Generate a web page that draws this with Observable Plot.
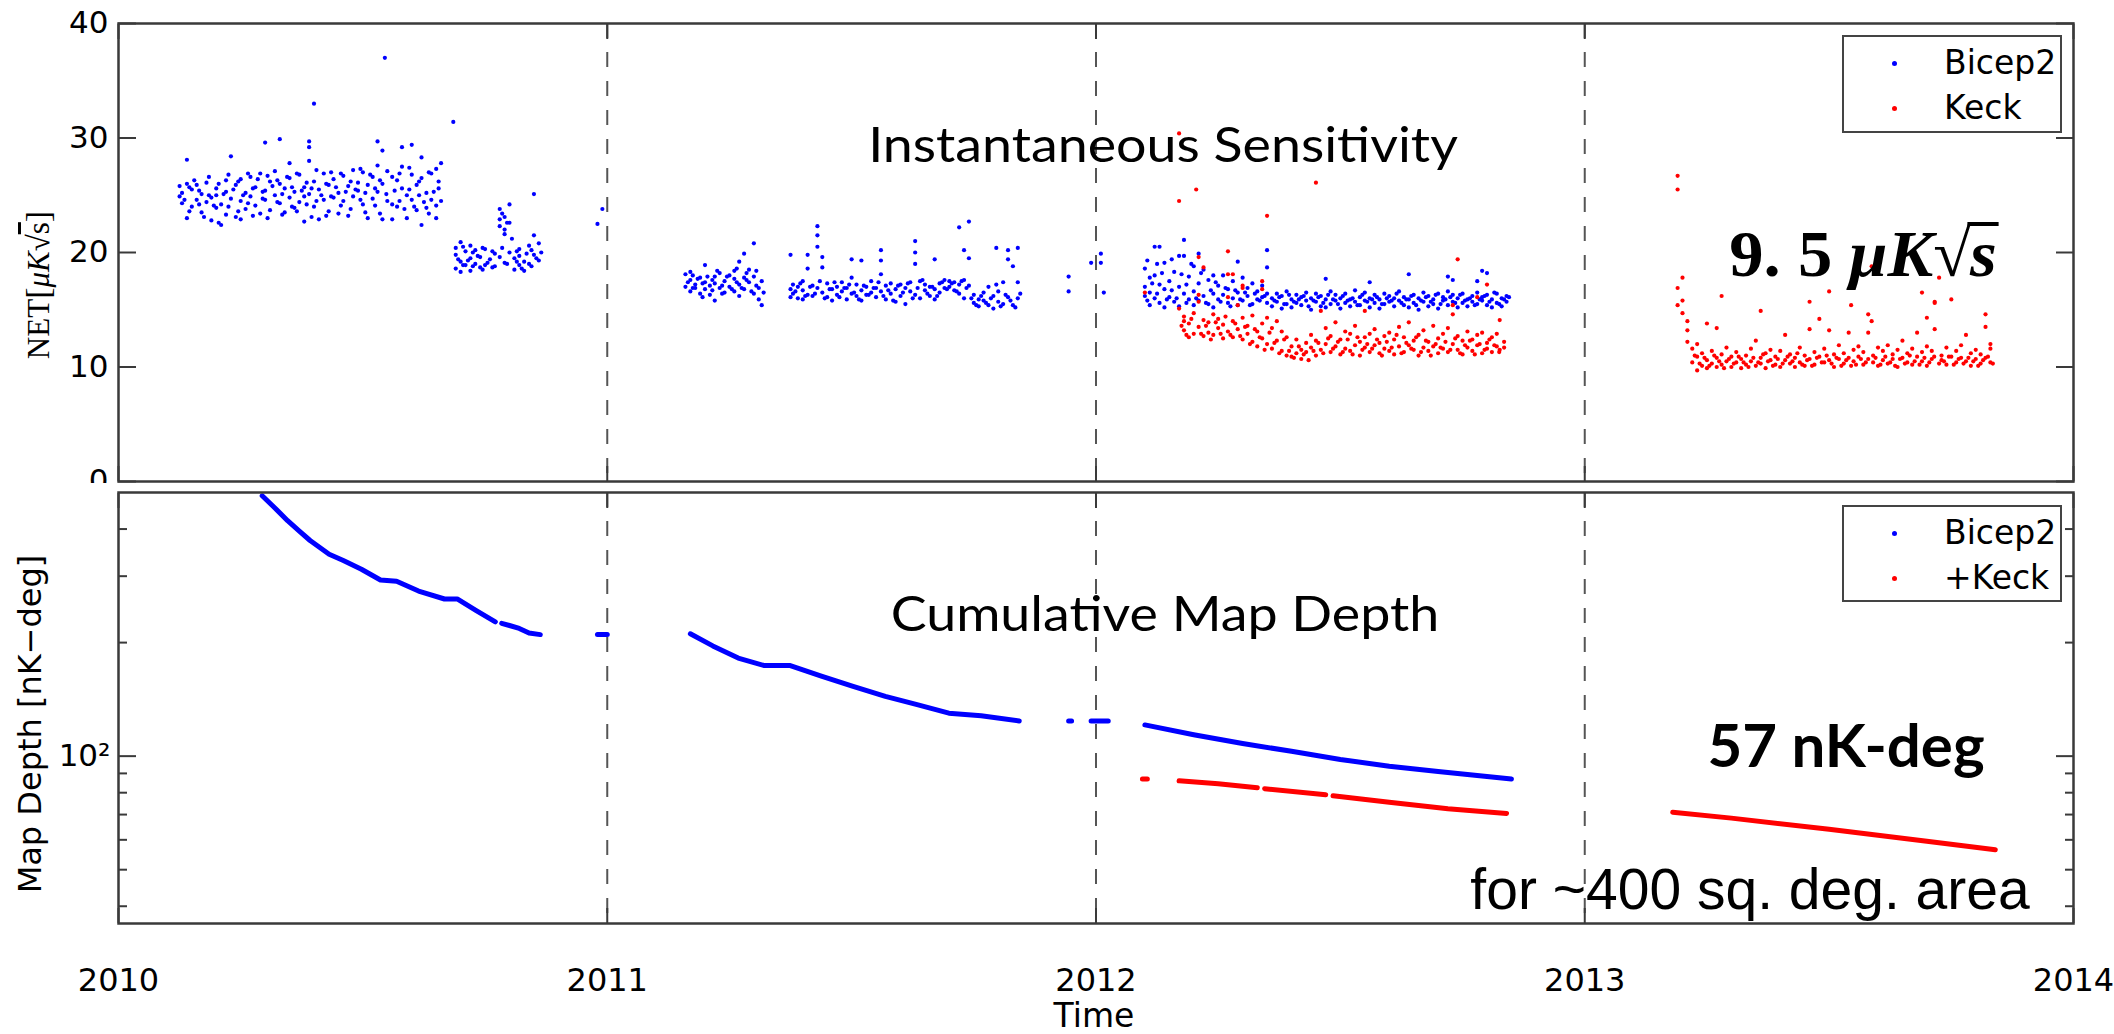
<!DOCTYPE html>
<html><head><meta charset="utf-8">
<script src="https://cdn.jsdelivr.net/npm/d3@7"></script>
<script src="https://cdn.jsdelivr.net/npm/@observablehq/plot@0.6"></script>
<style>
body{margin:0;background:#fff;}
#wrap{position:relative;width:2114px;height:1034px;background:#fff;overflow:hidden;}
#wrap svg{position:absolute;left:0;}
.lbl{position:absolute;white-space:nowrap;color:#000;line-height:1;}
.legend{position:absolute;border:2px solid #444;background:#fff;box-sizing:border-box;font-family:"DejaVu Sans",sans-serif;font-size:33px;}
.legend .row{position:absolute;left:0;right:0;height:40px;}
.legend .mk{position:absolute;left:48px;top:18px;width:5px;height:5px;border-radius:50%;}
.legend .tx{position:absolute;left:100px;top:0px;line-height:40px;}
</style></head><body><div id="wrap"></div><script>
// ---------------- data ----------------
const xTicks = [2010, 2011, 2012, 2013, 2014];
const yearLines = [2011, 2012, 2013];
const netTicks = [0, 10, 20, 30, 40];
const depthMajor = [100];
const depthMinor = [40, 50, 60, 70, 80, 90, 200, 300, 400];
const seriesNames = ["Bicep2", "Keck"];
const seriesNamesDepth = ["Bicep2", "+Keck"];

// Instantaneous sensitivity (NET, uK sqrt(s)); each row: time, then values seen at that time
const bicepNET = [
 [2010.125,25.8,24.9],[2010.13,25.2,24.3],[2010.14,26.0,23.0,28.1],[2010.15,25.5,24.0],[2010.16,24.6,25.9],
 [2010.17,23.5,25.1],[2010.18,26.1,24.4],[2010.19,24.8,22.8],[2010.20,25.6,23.9,25.0],[2010.21,24.2,22.4],
 [2010.22,26.3,25.3,23.3],[2010.23,28.4,24.7],[2010.24,25.9,23.1],[2010.25,24.5,26.4,22.9],[2010.26,25.2,23.8],
 [2010.27,26.6,24.9],[2010.28,25.7,24.1],[2010.29,23.4,26.9],[2010.30,29.6,25.4,24.6],[2010.31,26.2,23.7],
 [2010.32,25.0,27.1],[2010.33,29.9,24.3,26.0],[2010.34,25.6,23.5],[2010.35,27.8,24.8,26.5],[2010.36,25.3,23.9],
 [2010.37,26.8,24.4],[2010.38,25.7,22.7,24.9],[2010.39,29.7,29.2,28.0,25.1],[2010.40,33.0,26.2,24.0],[2010.41,25.5,22.9],
 [2010.42,26.9,24.6],[2010.43,25.9,23.6],[2010.44,24.8,26.4],[2010.45,25.2,23.4],[2010.46,26.7,24.5],
 [2010.47,25.8,23.2],[2010.48,27.2,24.9],[2010.49,25.4,26.1],[2010.50,24.2,27.0],[2010.51,25.9,23.0],
 [2010.52,26.6,24.7],[2010.53,29.7,27.6,25.3],[2010.54,28.9,26.0,22.9],[2010.545,37.0],[2010.55,27.1,24.5],
 [2010.57,26.3,24.0],[2010.58,29.2,27.5,25.6],[2010.59,25.0,23.0],[2010.60,29.4,26.8,24.6],[2010.61,25.9,23.7],
 [2010.62,28.3,26.5,22.4],[2010.63,25.2,23.9],[2010.64,24.6,26.9],[2010.65,27.3,24.1,23.0],[2010.655,25.6,26.2],
 [2010.685,31.4],
 [2010.69,19.8,18.6,20.4],[2010.70,19.2,20.9,18.3],[2010.71,20.1,18.9],[2010.72,19.5,18.4,20.6],[2010.73,19.0,20.2],
 [2010.74,18.7,19.6],[2010.75,20.3,18.9],[2010.76,19.4],[2010.77,19.9,18.8],[2010.78,23.8,22.9,22.3,19.6],
 [2010.79,23.1,22.0,21.6,19.1],[2010.80,24.2,22.6,20.0],[2010.81,19.5,18.5],[2010.82,20.3,18.9,19.7],[2010.83,19.2,18.4],
 [2010.84,20.6,19.0],[2010.85,25.1,21.5,19.8],[2010.86,20.8,19.3],
 [2010.98,22.5],[2010.99,23.8],
 [2011.16,18.1,17.0],[2011.17,17.6,16.6,18.3],[2011.18,17.2,16.9],[2011.19,17.8,16.4],[2011.20,18.9,17.4,16.8],
 [2011.21,17.1,16.3],[2011.22,17.9,15.8,17.3],[2011.23,16.9,18.2],[2011.24,17.5,16.5],[2011.25,18.0,17.0],
 [2011.26,16.6,17.7,18.4],[2011.27,19.2,17.2,16.2],[2011.28,19.9,17.8,16.8],[2011.29,18.5,17.4],[2011.30,20.8,16.4,17.9],
 [2011.31,16.9,15.9],[2011.316,15.4,17.5],
 [2011.375,19.8,16.8,16.1],[2011.38,17.2,16.4],[2011.39,16.0,17.0],[2011.40,16.7,15.9,17.5],[2011.41,19.8,18.6,16.3],
 [2011.42,17.1,16.2],[2011.43,22.3,21.5,20.5,16.9],[2011.44,19.6,18.7,16.5],[2011.45,16.1,17.3],[2011.46,16.8,15.8],
 [2011.47,17.0,16.3],[2011.48,16.6,17.4],[2011.49,15.9,16.9],[2011.50,19.4,17.8,16.4],[2011.51,16.2,17.2],
 [2011.52,19.3,16.7,15.8],[2011.53,17.0,16.3],[2011.54,16.5,17.5],[2011.55,16.1,16.9],[2011.56,20.2,19.3,18.1,16.6],
 [2011.57,17.1,15.9],[2011.58,16.4,17.3],[2011.59,16.8,15.7],[2011.60,17.2,16.2],[2011.61,15.5,16.9],
 [2011.62,17.4,16.6],[2011.63,21.0,20.0,19.0,16.3],[2011.64,17.5,16.0],[2011.65,16.7,17.2],[2011.66,16.2,17.0],
 [2011.67,19.4,16.8,15.9],[2011.68,17.3,16.5],[2011.69,17.6,16.9],[2011.70,17.0,17.5],[2011.71,17.4,16.7],
 [2011.72,22.2,17.2,16.4],[2011.73,20.2,17.6,16.0],[2011.74,22.7,19.5,17.1],[2011.75,16.3,15.6],[2011.76,15.9,15.3],
 [2011.77,16.5,15.8],[2011.78,17.0,15.4],[2011.79,16.2,15.1],[2011.796,20.4,17.2],[2011.80,15.7,16.6],
 [2011.81,17.4,15.5],[2011.82,20.2,19.4,16.1],[2011.83,18.8,15.4],[2011.84,20.4,17.4,16.0],
 [2011.944,17.9,16.6],[2011.99,19.1],[2012.01,19.9,19.1],[2012.016,16.5],
 [2012.10,18.6,17.0,16.2],[2012.105,19.3,15.8],[2012.11,17.8,16.5,15.4],[2012.12,20.5,18.0,16.0],[2012.13,20.5,17.2,15.6],
 [2012.14,19.1,16.8,15.2],[2012.15,17.5,16.1],[2012.16,18.3,15.7],[2012.17,19.7,17.0,15.3],[2012.18,21.1,19.7,16.4],
 [2012.19,17.9,15.9],[2012.20,18.8,16.6,15.4],[2012.21,19.9,17.3,15.8],[2012.22,18.5,16.2],[2012.23,17.6,15.5],
 [2012.24,18.0,16.4,15.2],[2012.25,17.1,15.9],[2012.26,18.0,16.3],[2012.27,16.8,15.6],[2012.28,17.5,16.0],
 [2012.29,19.2,16.5,15.4],[2012.30,17.8,15.8],[2012.31,16.9,16.2],[2012.32,17.3,15.5],[2012.33,16.6,15.9],
 [2012.34,17.1,16.1],[2012.35,20.2,18.7,16.4,15.6],
 [2012.36,16.0,15.3],[2012.37,15.7,16.4],[2012.38,16.2,15.1],[2012.39,15.5,16.6],[2012.40,15.9,15.2],
 [2012.41,16.3,15.6],[2012.42,15.4,16.1],[2012.43,16.5,15.8],[2012.44,15.0,16.0],[2012.45,15.7,16.4],
 [2012.46,15.3,16.2],[2012.47,17.7,15.9,15.2],[2012.48,16.6,15.5],[2012.49,15.8,16.3],[2012.50,15.1,16.0],
 [2012.51,16.4,15.6],[2012.52,15.9,15.3],[2012.53,16.7,15.7],[2012.54,15.4,16.1],[2012.55,15.8,16.5],
 [2012.56,17.4,15.2,16.0],[2012.57,15.6,16.3],[2012.58,15.9,15.1],[2012.59,16.4,15.5],[2012.60,15.7,16.2],
 [2012.61,15.3,16.0],[2012.62,16.6,15.8],[2012.63,15.4,16.1],[2012.64,18.1,15.9,15.2],[2012.65,16.3,15.6],
 [2012.66,15.0,16.0],[2012.67,16.5,15.7],[2012.68,15.3,16.2],[2012.69,15.9,15.5],[2012.70,16.4,15.1],
 [2012.71,15.8,16.1],[2012.72,17.9,15.4,16.6],[2012.73,15.7,16.3,17.6],[2012.74,15.2,16.0],[2012.75,16.4,15.6],
 [2012.76,15.9,15.3],[2012.77,16.2,15.7],[2012.78,17.5,15.5,16.5],[2012.79,18.4,15.8,16.1],[2012.80,18.2,15.4,16.3],
 [2012.81,15.9,15.2],[2012.82,16.4,15.6],[2012.83,16.0,15.3],[2012.84,16.2,15.7]
];
const bicepNET2 = [
 [2010.135,24.6],[2010.145,25.7,23.6],[2010.155,26.3],[2010.165,24.2,25.4],[2010.175,23.1],[2010.185,25.0,26.6],
 [2010.195,24.1],[2010.205,26.0,22.6],[2010.215,25.1],[2010.225,24.0,26.8],[2010.235,25.5],[2010.245,23.6,26.2],
 [2010.255,25.0],[2010.265,24.3,26.9],[2010.275,25.6,23.2],[2010.285,26.4],[2010.295,24.7,25.3],[2010.305,23.0,26.7],
 [2010.315,25.8],[2010.325,24.4,26.3],[2010.335,25.1,23.3],[2010.345,26.6],[2010.355,24.0,25.7],[2010.365,26.9,23.6],
 [2010.375,25.4],[2010.385,24.2,26.1],[2010.395,25.6,23.1],[2010.405,27.2,24.5],[2010.415,25.0],[2010.425,23.2,26.0],
 [2010.435,24.9,27.0],[2010.445,25.7],[2010.455,24.1,26.9],[2010.465,25.3],[2010.475,23.8,26.2],[2010.485,25.5],
 [2010.495,24.6,27.3],[2010.505,25.2,23.5],[2010.515,26.8],[2010.525,24.1,25.6],[2010.535,26.3,23.4],[2010.548,25.1],
 [2010.56,26.6,24.2,22.9],[2010.565,25.4],[2010.575,24.5,26.9],[2010.585,23.8],[2010.595,25.5,27.4],[2010.605,24.0],
 [2010.615,26.2,25.0],[2010.625,24.4],[2010.635,27.0,23.4],[2010.645,25.3],[2010.66,24.5,27.8],
 [2010.695,19.4],[2010.705,20.5,18.9],[2010.715,19.3],[2010.725,18.8,20.0],[2010.735,19.7],[2010.745,20.4,18.5],
 [2010.755,19.1],[2010.765,20.1,18.7],[2010.785,23.4,20.4],[2010.795,22.6,19.0],[2010.805,21.2],[2010.815,20.1,19.2],
 [2010.825,18.6],[2010.835,19.9],[2010.845,20.2,18.8],[2010.855,19.5],[2010.865,20.0],
 [2011.165,17.4],[2011.175,16.9,18.0],[2011.185,17.7],[2011.195,16.1,17.3],[2011.205,17.9],[2011.215,16.7,17.6],
 [2011.225,18.4],[2011.235,17.1,16.4],[2011.245,17.9],[2011.255,16.8],[2011.265,17.4,18.6],[2011.275,16.9],
 [2011.285,17.6,18.2],[2011.295,16.6],[2011.305,18.4,17.1],[2011.32,16.5],
 [2011.385,16.6],[2011.395,17.3],[2011.405,16.2],[2011.415,17.0],[2011.425,16.4],[2011.435,17.5],[2011.445,16.0],
 [2011.455,16.8],[2011.465,17.4],[2011.475,16.1],[2011.485,16.9],[2011.495,17.2],[2011.505,16.5],[2011.515,15.9],
 [2011.525,17.1],[2011.535,16.3],[2011.545,16.9],[2011.555,17.4],[2011.565,16.2],[2011.575,16.7],[2011.585,15.8],
 [2011.595,17.1],[2011.605,16.5],[2011.615,17.3],[2011.625,16.0],[2011.635,16.9],[2011.645,17.6],[2011.655,16.4],
 [2011.665,17.0],[2011.675,16.2],[2011.685,17.4],[2011.695,16.8],[2011.705,17.3],[2011.715,16.6],[2011.725,17.5],
 [2011.735,16.9],[2011.745,16.0],[2011.755,15.4],[2011.765,16.2],[2011.775,15.6],[2011.785,16.0],[2011.805,15.3],
 [2011.815,16.3],[2011.825,15.8],[2011.835,15.2],[2011.845,16.4],
 [2012.115,17.3],[2012.125,16.4,19.0],[2012.135,18.2],[2012.145,15.9],[2012.155,19.4,16.7],[2012.165,16.0],
 [2012.175,18.1],[2012.185,15.6,17.2],[2012.195,19.0],[2012.205,16.0],[2012.215,18.2],[2012.225,15.6],
 [2012.235,16.7],[2012.245,17.4],[2012.255,15.7],[2012.265,16.9],[2012.275,15.3],[2012.285,16.7],[2012.295,15.9],
 [2012.305,16.5],[2012.315,15.4],[2012.325,16.4],[2012.335,15.8],[2012.345,16.2],
 [2012.365,15.8],[2012.375,16.1],[2012.385,15.5],[2012.395,16.3],[2012.405,15.7],[2012.415,15.9],[2012.425,16.2],
 [2012.435,15.3],[2012.445,15.8],[2012.455,16.1],[2012.465,15.6],[2012.475,16.3],[2012.485,15.9],[2012.495,15.5],
 [2012.505,16.2],[2012.515,15.8],[2012.525,16.0],[2012.535,15.4],[2012.545,16.3],[2012.555,15.7],[2012.565,15.9],
 [2012.575,16.1],[2012.585,15.5],[2012.595,16.0],[2012.605,15.8],[2012.615,16.4],[2012.625,15.6],[2012.635,15.9],
 [2012.645,16.2],[2012.655,15.4],[2012.665,15.8],[2012.675,16.1],[2012.685,15.7],[2012.695,16.3],[2012.705,15.5],
 [2012.715,15.9],[2012.725,16.1],[2012.735,15.6],[2012.745,16.3],[2012.755,15.8],[2012.765,16.0],[2012.775,15.4],
 [2012.785,15.9],[2012.795,16.2],[2012.805,15.7],[2012.815,16.5],[2012.825,15.5],[2012.835,15.9],[2012.845,16.1]
];
const keckNET = [
 [2012.10,16.5],[2012.17,30.4,24.5,15.1],[2012.18,14.4,13.2,14.0],[2012.19,12.6,13.8],[2012.20,14.7,12.9],
 [2012.205,25.5],[2012.21,19.6,16.3,15.7,13.5],[2012.22,18.7,12.7,14.1],[2012.23,13.0,13.9],[2012.24,14.6,12.8],
 [2012.25,13.4,14.2],[2012.26,12.5,13.7],[2012.27,20.1,18.1,16.1,13.1],[2012.28,18.1,14.0,12.6],[2012.29,15.4,13.3],
 [2012.30,17.1,16.9,14.3,12.4],[2012.31,13.6,12.9],[2012.32,14.5,12.2],[2012.33,13.1,11.8],[2012.34,17.5,16.8,13.8,12.5],
 [2012.35,23.2,14.3,12.0],[2012.36,13.4,11.6],[2012.37,14.0,12.3],[2012.38,13.1,11.4],[2012.39,12.6,11.0],
 [2012.40,11.8,10.9],[2012.41,12.4,11.2],[2012.42,11.5,10.7],[2012.43,12.1,11.3],[2012.44,11.7,12.8],
 [2012.45,26.1,11.0,12.3],[2012.46,14.9,11.5],[2012.47,13.4,12.0],[2012.48,11.3,12.7],[2012.49,13.9,11.8],
 [2012.50,12.4,11.1],[2012.51,11.6,13.1],[2012.52,12.9,11.4],[2012.53,11.9,13.6],[2012.54,12.2,11.0],
 [2012.55,14.9,12.6,11.7],[2012.56,11.3,12.9],[2012.57,13.3,11.9],[2012.58,12.1,11.2],[2012.59,11.6,12.7],
 [2012.60,13.0,11.4],[2012.61,12.4,11.1],[2012.62,11.8,13.5],[2012.63,12.6,11.3],[2012.64,13.9,11.9],
 [2012.65,11.5,12.3],[2012.66,12.8,11.0],[2012.67,11.7,13.2],[2012.68,12.2,11.4],[2012.69,13.6,11.8],
 [2012.70,11.2,12.5],[2012.71,12.9,11.6],[2012.72,11.3,13.4],[2012.73,15.4,14.6,12.0],[2012.74,19.4,11.5,12.7],
 [2012.75,12.3,11.1],[2012.76,13.1,11.7],[2012.77,11.4,12.4],[2012.78,16.1,12.8,11.9],[2012.79,11.2,13.0],
 [2012.80,17.2,12.1,11.6],[2012.81,12.6,11.3],[2012.82,11.8,12.9],[2012.826,14.1,11.5],[2012.835,12.2,11.7],
 [2013.19,26.7,25.5,16.9,15.4],[2013.20,17.8,15.8,14.7],[2013.21,14.0,13.2,12.2],[2013.22,11.6,10.4],[2013.23,12.0,10.9,9.7],
 [2013.24,11.2,10.1],[2013.25,13.8,10.6,9.9],[2013.26,11.4,10.3],[2013.27,13.4,10.8,10.0],[2013.28,16.2,11.1,10.2],
 [2013.29,10.5,11.7],[2013.30,10.0,10.9],[2013.31,11.3,10.4],[2013.32,10.7,9.9],[2013.33,11.0,10.2],
 [2013.34,10.5,11.6],[2013.35,12.3,10.1],[2013.36,14.9,10.8,10.3],[2013.37,11.2,9.9],[2013.38,10.6,11.5],
 [2013.39,10.2,10.9],[2013.40,11.4,10.0],[2013.41,12.8,10.6],[2013.42,10.3,11.1],[2013.43,10.8,10.0],
 [2013.44,11.7,10.4],[2013.45,10.1,11.0],[2013.46,15.7,13.3,10.7],[2013.47,11.3,10.2],[2013.48,14.2,10.9],
 [2013.49,10.4,11.6],[2013.50,16.6,13.2,10.6],[2013.51,11.1,10.0],[2013.52,10.7,11.9],[2013.53,10.3,11.2],
 [2013.54,13.0,10.8],[2013.545,15.4,10.1],[2013.55,11.5,10.5],[2013.56,10.9,11.8],[2013.57,10.2,11.3],
 [2013.58,14.6,13.0,10.7],[2013.587,18.8,14.0],[2013.59,11.0,10.4],[2013.60,11.7,10.1],[2013.61,10.6,11.4],
 [2013.62,10.3,11.9],[2013.63,11.1,10.7],[2013.64,10.0,11.5],[2013.65,12.3,10.8],[2013.66,10.4,11.2],
 [2013.67,11.6,10.2],[2013.68,13.0,10.9],[2013.69,16.5,11.3,10.5],[2013.70,14.3,10.1,11.8],[2013.71,10.7,11.4],
 [2013.716,15.7,15.6,13.3],[2013.725,17.8,10.3],[2013.73,11.0,10.6],[2013.74,11.7,10.2],[2013.75,15.9,10.9],
 [2013.76,11.4,10.4],[2013.77,10.8,11.9],[2013.78,12.8,10.5],[2013.79,11.2,10.1],[2013.80,10.7,11.5],
 [2013.81,11.1,10.3],[2013.82,14.6,13.5,10.8],[2013.83,11.6,10.4,12.0]
];
const keckNET2 = [
 [2012.175,13.6],[2012.185,12.8],[2012.195,14.2],[2012.215,12.9],[2012.225,13.6],[2012.235,12.4],[2012.245,13.9],
 [2012.255,12.9],[2012.265,14.4],[2012.275,12.8],[2012.285,13.8],[2012.295,12.7],[2012.305,13.5],[2012.315,12.0],
 [2012.325,13.3],[2012.335,12.6],[2012.345,11.5],[2012.355,13.0],[2012.365,12.1],[2012.375,11.2],[2012.385,12.4],
 [2012.395,11.4],[2012.405,10.8],[2012.415,11.8],[2012.425,11.1],[2012.435,10.6],[2012.445,11.4],[2012.455,12.1],
 [2012.465,11.2],[2012.475,12.5],[2012.485,11.6],[2012.495,12.2],[2012.505,11.3],[2012.515,12.4],[2012.525,11.1],
 [2012.535,12.6],[2012.545,11.5],[2012.555,12.0],[2012.565,11.6],[2012.575,12.4],[2012.585,11.0],[2012.595,12.2],
 [2012.605,11.7],[2012.615,12.8],[2012.625,11.2],[2012.635,12.1],[2012.645,11.6],[2012.655,12.6],[2012.665,11.3],
 [2012.675,12.3],[2012.685,11.0],[2012.695,12.0],[2012.705,11.7],[2012.715,12.2],[2012.725,11.5],[2012.735,12.5],
 [2012.745,11.2],[2012.755,11.9],[2012.765,12.3],[2012.775,11.1],[2012.785,12.0],[2012.795,11.5],[2012.805,12.4],
 [2012.815,11.9],[2012.825,11.3],
 [2013.225,11.0],[2013.235,10.3],[2013.245,10.8],[2013.255,10.1],[2013.265,11.0],[2013.275,10.5],[2013.285,9.9],
 [2013.295,10.7],[2013.305,10.3],[2013.315,10.9],[2013.325,10.4],[2013.335,10.0],[2013.345,10.8],[2013.355,10.4],
 [2013.365,11.1],[2013.375,10.5],[2013.385,10.1],[2013.395,10.7],[2013.405,10.3],[2013.415,10.9],[2013.425,10.5],
 [2013.435,11.2],[2013.445,10.2],[2013.455,10.6],[2013.465,10.1],[2013.475,10.8],[2013.485,10.4],[2013.495,11.0],
 [2013.505,10.3],[2013.515,10.8],[2013.525,10.1],[2013.535,10.6],[2013.555,10.2],[2013.565,10.7],[2013.575,10.4],
 [2013.595,10.8],[2013.605,10.2],[2013.615,10.9],[2013.625,10.4],[2013.635,10.1],[2013.645,10.7],[2013.655,10.3],
 [2013.665,11.0],[2013.675,10.5],[2013.685,10.2],[2013.695,10.8],[2013.705,10.4],[2013.715,10.9],[2013.735,10.5],
 [2013.745,10.9],[2013.755,10.2],[2013.765,10.7],[2013.775,10.3],[2013.785,10.8],[2013.795,10.5],[2013.805,10.1],
 [2013.815,10.6],[2013.825,10.9],[2013.835,10.3]
];

// Cumulative map depth (nK-deg), drawn as runs separated by gaps
const bicepDepth = [
 [[2010.294,490],[2010.32,455],[2010.346,421],[2010.37,395],[2010.392,373],[2010.431,343],[2010.46,330],[2010.497,313],
  [2010.536,293],[2010.569,291],[2010.614,274],[2010.667,261],[2010.693,261],[2010.732,243],[2010.771,227]],
 [[2010.784,225],[2010.80,222],[2010.82,218],[2010.84,212],[2010.863,210]],
 [[2010.98,210],[2011.0,210]],
 [[2011.17,211],[2011.216,196],[2011.268,182],[2011.32,174],[2011.373,174],[2011.438,163],[2011.503,153],
  [2011.569,144],[2011.634,137],[2011.699,130],[2011.765,128],[2011.843,124]],
 [[2011.944,124],[2011.95,124]],
 [[2011.99,124],[2012.025,124]],
 [[2012.10,121],[2012.2,114],[2012.3,108],[2012.4,103],[2012.5,98],[2012.6,94],[2012.7,91],[2012.85,87]]
];
const keckDepth = [
 [[2012.095,87],[2012.105,87]],
 [[2012.17,86],[2012.25,84.5],[2012.33,82.5]],
 [[2012.345,82],[2012.47,79]],
 [[2012.485,78.5],[2012.6,75.5],[2012.72,72.5],[2012.84,70.5]],
 [[2013.18,71],[2013.3,68.5],[2013.5,64],[2013.7,59.5],[2013.84,56.5]]
];

// ---------------- build ----------------
const BLUE = "#0000ff", RED = "#ff0000", AX = "#3a3a3a";
const rows = (arr) => arr.flatMap(([t, ...vs]) => vs.map(v => ({t, v})));
const segs = (arr) => arr.flatMap((s, i) => s.map(([t, v]) => ({t, v, seg: i})));
const W = 2114;
const common = {width: W, marginLeft: 118, marginRight: 41,
  style: {fontFamily: "DejaVu Sans, sans-serif", fontSize: "32px", color: "#000", background: "white", overflow: "visible"}};
const blank = () => "";
const rulesOpts = {stroke: "#555", strokeWidth: 2, strokeDasharray: "15,14"};
const tickOpts = {tickFormat: blank, label: null, stroke: AX, strokeWidth: 2};

const topPlot = Plot.plot({
  ...common, height: 490, marginTop: 23, marginBottom: 9,
  x: {domain: [2010, 2014]}, y: {domain: [0, 40], label: null},
  marks: [
    Plot.ruleX(yearLines, rulesOpts),
    Plot.dot(rows(bicepNET).concat(rows(bicepNET2)), {x: "t", y: "v", r: 2.1, fill: BLUE}),
    Plot.dot(rows(keckNET).concat(rows(keckNET2)), {x: "t", y: "v", r: 2.1, fill: RED}),
    Plot.axisY(netTicks, {anchor: "left", tickSize: 0, tickPadding: 10, label: null, fontSize: 31}),
    Plot.axisY(netTicks, {anchor: "left", tickSize: -18, ...tickOpts}),
    Plot.axisY(netTicks, {anchor: "right", tickSize: -18, ...tickOpts}),
    Plot.axisX(xTicks, {anchor: "bottom", tickSize: -15, ...tickOpts}),
    Plot.axisX(xTicks, {anchor: "top", tickSize: -15, ...tickOpts}),
    Plot.frame({stroke: AX, strokeWidth: 2.5})
  ]
});

const botPlot = Plot.plot({
  ...common, height: 551, marginTop: 9, marginBottom: 111,
  x: {domain: [2010, 2014]}, y: {type: "log", domain: [36, 500], label: null},
  marks: [
    Plot.ruleX(yearLines, rulesOpts),
    Plot.line(segs(bicepDepth), {x: "t", y: "v", z: "seg", stroke: BLUE, strokeWidth: 5}),
    Plot.line(segs(keckDepth), {x: "t", y: "v", z: "seg", stroke: RED, strokeWidth: 5}),
    Plot.axisY(depthMajor, {anchor: "left", tickSize: 0, tickPadding: 8, tickFormat: () => "10²", label: null, fontSize: 31}),
    Plot.axisY(depthMajor, {anchor: "left", tickSize: -18, ...tickOpts}),
    Plot.axisY(depthMajor, {anchor: "right", tickSize: -18, ...tickOpts}),
    Plot.axisY(depthMinor, {anchor: "left", tickSize: -9, ...tickOpts}),
    Plot.axisY(depthMinor, {anchor: "right", tickSize: -9, ...tickOpts}),
    Plot.axisX(xTicks, {anchor: "bottom", tickSize: 0, tickPadding: 45, tickFormat: d => String(d), label: null, fontSize: 32}),
    Plot.axisX(xTicks, {anchor: "bottom", tickSize: -15, ...tickOpts}),
    Plot.axisX(xTicks, {anchor: "top", tickSize: -15, ...tickOpts}),
    Plot.frame({stroke: AX, strokeWidth: 2.5})
  ]
});

const wrap = document.getElementById("wrap");
topPlot.style.top = "0px";
botPlot.style.top = "483px";
wrap.appendChild(topPlot);
wrap.appendChild(botPlot);

function label(html, x, y, css, opt = {}) {
  const d = document.createElement("div");
  d.className = "lbl";
  d.innerHTML = html;
  d.style.cssText += css;
  d.style.left = x + "px"; d.style.top = y + "px";
  const sx = opt.sx || 1;
  d.style.transform = "translate(-50%,-50%)" + (opt.rot ? " rotate(-90deg)" : "") + (sx !== 1 ? ` scale(${sx},1)` : "");
  wrap.appendChild(d);
}
label("Instantaneous Sensitivity", 1163, 144, "font-family:Lato;font-size:48px;", {sx: 1.12});
label("Cumulative Map Depth", 1165, 613, "font-family:Lato;font-size:48px;", {sx: 1.12});
label('9.&nbsp;5 <i>μK</i><span style="font-weight:normal">√</span><i style="display:inline-block;border-top:4px solid #000;line-height:0.8;padding:2px 2px 0 2px;margin-left:-3px;">s</i>', 1864, 254,
      "font-family:'Liberation Serif';font-weight:bold;font-size:66px;", {sx: 1.04});
label("57 nK-deg", 1846, 744, "font-family:Lato;font-weight:bold;font-size:60px;");
label("for ~400 sq. deg. area", 1750, 889, "font-family:'Liberation Sans';font-size:57px;");
label('NET<span style="font-size:34px">[</span><i>μK</i>√<span style="text-decoration:overline">s</span><span style="font-size:34px">]</span>', 38, 285,
      "font-family:'Liberation Serif';font-size:31px;", {rot: true});
label("Map Depth [nK−deg]", 30, 724, "font-family:'DejaVu Sans';font-size:32px;", {rot: true});
label("Time", 1094, 1015, "font-family:'DejaVu Sans';font-size:33px;");

function legend(names, top, height) {
  const box = document.createElement("div");
  box.className = "legend";
  box.style.left = "1842px"; box.style.top = top + "px";
  box.style.width = "220px"; box.style.height = height + "px";
  const colors = [BLUE, RED];
  names.forEach((n, i) => {
    const r = document.createElement("div");
    r.className = "row";
    r.style.top = (6 + i * 45) + "px";
    r.innerHTML = `<div class="mk" style="background:${colors[i]}"></div><div class="tx">${n}</div>`;
    box.appendChild(r);
  });
  wrap.appendChild(box);
}
legend(seriesNames, 35, 98);
legend(seriesNamesDepth, 505, 97);
</script></body></html>
